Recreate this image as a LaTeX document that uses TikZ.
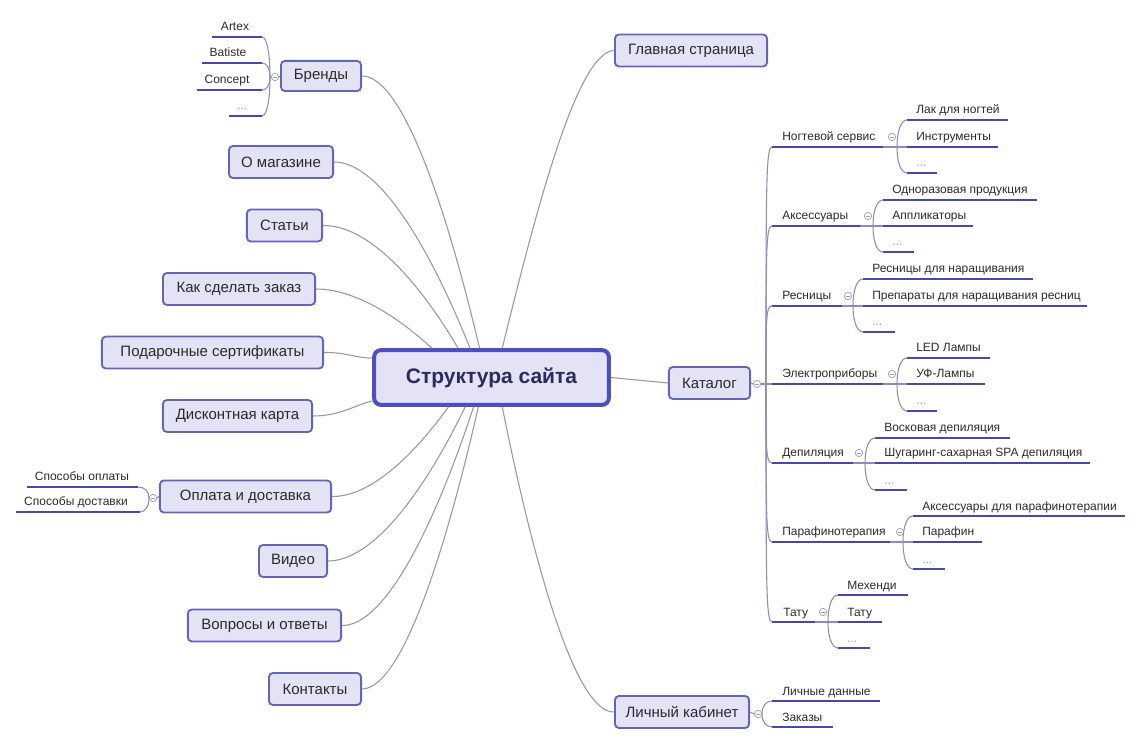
\documentclass[tikz,border=0pt]{standalone}
\usepackage{fontspec}
\setmainfont{Liberation Sans}
\usetikzlibrary{calc}
\definecolor{boxfill}{HTML}{E3E3F5}
\definecolor{boxdraw}{HTML}{6565B5}
\definecolor{ctrdraw}{HTML}{4E4EC0}
\definecolor{ulcol}{HTML}{4848A8}
\definecolor{conncol}{HTML}{9696AE}
\definecolor{brcol}{HTML}{8C8CB8}
\definecolor{txt}{HTML}{2A2A2A}
\definecolor{ctrtxt}{HTML}{2B2B5C}
\definecolor{dotcol}{HTML}{9A9A9A}
\definecolor{circcol}{HTML}{A0A0BC}
\newcommand\uitem[7][itm]{%
  \coordinate (#2s) at (#3,#5);
  \coordinate (#2e) at (#4,#5);
  \draw[uline] (#2s) -- (#2e);
  \node[anchor=base west,#1] (#2) at (#6,{#5-6}) {#7};}
\newcommand\forkto[2]{\draw[branch] (#1) .. controls ($(#1)!0.6!(#1 |- #2)$) and ($(#1 |- #2)!0.4!(#2)$) .. (#2);}
\newcommand\trunkto[2]{\draw[branch] (#1) .. controls ($(#1)!0.85!(#1 |- #2)$) and (#1 |- #2) .. (#2);}
\begin{document}
\begin{tikzpicture}[x=0.75pt,y=-0.75pt,
  box/.style={draw=boxdraw, line width=1.4pt, fill=boxfill, rounded corners=3pt,
    minimum height=24pt, inner sep=0pt, font=\fontsize{11.25}{13}\selectfont, text=txt},
  ctrbox/.style={draw=ctrdraw, line width=3pt, fill=boxfill, rounded corners=5pt,
    minimum width=176pt, minimum height=41pt, inner sep=0pt,
    font=\fontsize{15.75}{18}\selectfont\bfseries, text=ctrtxt},
  conn/.style={draw=conncol, line width=0.8pt},
  branch/.style={draw=brcol, line width=0.8pt},
  uline/.style={draw=ulcol, line width=2pt},
  itm/.style={font=\fontsize{9}{11}\selectfont, text=txt, inner sep=0pt},
  dotitm/.style={itm, text=dotcol},
  mcirc/.style={circle, draw=circcol, fill=white, line width=0.6pt, minimum size=5.5pt,
    inner sep=0pt, path picture={\draw[circcol, line width=0.6pt]
      ([xshift=-1.6pt]path picture bounding box.center) --
      ([xshift=1.6pt]path picture bounding box.center);}}
]
\useasboundingbox (0,0) rectangle (1140,745);

% center
\node[ctrbox] (ctr) at (491.5,377.5) {Структура сайта};

% main boxes
\node[box, minimum width=60.1pt, minimum height=22.6pt] (brand) at (321,76) {Бренды};
\node[box, minimum width=78.1pt] (shop) at (281,162) {О магазине};
\node[box, minimum width=56.4pt] (art) at (284.5,225.5) {Статьи};
\node[box, minimum width=114.1pt] (order) at (239,289) {Как сделать заказ};
\node[box, minimum width=165.9pt] (gift) at (212.5,352.5) {Подарочные сертификаты};
\node[box, minimum width=111.9pt] (disc) at (237.5,416) {Дисконтная карта};
\node[box, minimum width=128.4pt] (pay) at (245.5,496.5) {Оплата и доставка};
\node[box, minimum width=51.1pt] (video) at (293,561) {Видео};
\node[box, minimum width=114.9pt] (faq) at (264.5,625.5) {Вопросы и ответы};
\node[box, minimum width=69.1pt] (cont) at (315,689) {Контакты};
\node[box, minimum width=114.1pt] (home) at (691,50.5) {Главная страница};
\node[box, minimum width=60.9pt] (cat) at (709.5,383) {Каталог};
\node[box, minimum width=100.6pt] (lk) at (682,712) {Личный кабинет};

% landing points on the center box
\coordinate (t1) at ($(ctr.north west)!0.25!(ctr.north east)$);
\coordinate (t2) at ($(ctr.north west)!0.36!(ctr.north east)$);
\coordinate (t3) at ($(ctr.north west)!0.41!(ctr.north east)$);
\coordinate (t4) at ($(ctr.north west)!0.45!(ctr.north east)$);
\coordinate (t5) at ($(ctr.north west)!0.545!(ctr.north east)$);
\coordinate (b1) at ($(ctr.south west)!0.32!(ctr.south east)$);
\coordinate (b2) at ($(ctr.south west)!0.39!(ctr.south east)$);
\coordinate (b3) at ($(ctr.south west)!0.425!(ctr.south east)$);
\coordinate (b4) at ($(ctr.south west)!0.445!(ctr.south east)$);
\coordinate (b5) at ($(ctr.south west)!0.545!(ctr.south east)$);
\coordinate (w1) at ($(ctr.north west)!0.17!(ctr.south west)$);
\coordinate (w2) at ($(ctr.north west)!0.9!(ctr.south west)$);

% connectors from center
\draw[conn] (brand.east) .. controls (401,76) and (444,198) .. (t4);
\draw[conn] (shop.east) .. controls (379,162) and (429,246) .. (t3);
\draw[conn] (art.east) .. controls (368,225) and (418,280) .. (t2);
\draw[conn] (order.east) .. controls (354,289) and (397,316) .. (t1);
\draw[conn] (gift.east) .. controls (345,352) and (355,358) .. (w1);
\draw[conn] (disc.east) .. controls (340,416) and (355,405) .. (w2);
\draw[conn] (pay.east) .. controls (370,497) and (413,456) .. (b1);
\draw[conn] (video.east) .. controls (373,561) and (424,492) .. (b2);
\draw[conn] (faq.east) .. controls (385,626) and (434,527) .. (b3);
\draw[conn] (cont.east) .. controls (400,689) and (443,562) .. (b4);
\draw[conn] (home.west) .. controls (577,52) and (536,211) .. (t5);
\draw[conn] (lk.west) .. controls (577,713) and (536,575) .. (b5);
\draw[conn] (ctr.east) -- (cat.west);

% brands subtree
\node[mcirc] (brc) at (275,77) {};
\coordinate (brj) at (270,77);
\uitem[itm,anchor=base]{artex}{212}{262}{37}{235}{Artex}
\uitem[itm,anchor=base]{batiste}{202}{262}{63}{228}{Batiste}
\uitem[itm,anchor=base]{concept}{197}{262}{90}{227}{Concept}
\uitem[dotitm,anchor=base]{brd}{229}{262}{116}{242}{...}
\draw[branch] (brand.west) -- (brc.east);
\forkto{brj}{artexe}
\forkto{brj}{batistee}
\forkto{brj}{concepte}
\forkto{brj}{brde}

% payment subtree
\node[mcirc] (payc) at (153,498) {};
\coordinate (payj) at (149,498);
\uitem[itm,anchor=base]{sopl}{27}{138}{487}{82}{Способы оплаты}
\uitem[itm,anchor=base]{sdost}{16}{140}{512}{76}{Способы доставки}
\draw[branch] (pay.west) -- (payc.east);
\forkto{payj}{sople}
\forkto{payj}{sdoste}

% personal cabinet subtree
\node[mcirc] (lkc) at (758,714) {};
\coordinate (lkj) at (762,714);
\uitem{lich}{772}{880}{701}{782}{Личные данные}
\uitem{zak}{772}{833}{727}{782}{Заказы}
\draw[branch] (lk.east) -- (lkc.west);
\forkto{lkj}{lichs}
\forkto{lkj}{zaks}

% catalog subtree
\node[mcirc] (catc) at (757,384) {};
\coordinate (trj) at (766,384);
\draw[branch] (cat.east) -- (catc.west);
\draw[branch] (catc.east) -- (trj);

% Ногтевой сервис
\uitem{ns}{772}{883}{147}{782}{Ногтевой сервис}
\node[mcirc] (nsc) at (892,137) {};
\coordinate (nsj) at (897,147);
\uitem{lak}{907}{1008}{120}{916}{Лак для ногтей}
\uitem{instr}{907}{998}{147}{916}{Инструменты}
\uitem[dotitm]{nsd}{907}{937}{173}{916}{...}
\draw[branch] (nse) -- (instrs);
\forkto{nsj}{laks}
\forkto{nsj}{nsds}

% Аксессуары
\uitem{acc}{772}{860}{226}{782}{Аксессуары}
\node[mcirc] (accc) at (868,216) {};
\coordinate (accj) at (873,226);
\uitem{odn}{883}{1037}{200}{892}{Одноразовая продукция}
\uitem{appl}{883}{973}{226}{892}{Аппликаторы}
\uitem[dotitm]{accd}{883}{914}{252}{892}{...}
\draw[branch] (acce) -- (appls);
\forkto{accj}{odns}
\forkto{accj}{accds}

% Ресницы
\uitem{res}{772}{842}{306}{782}{Ресницы}
\node[mcirc] (resc) at (848,296) {};
\coordinate (resj) at (853,306);
\uitem{resn}{863}{1033}{279}{872}{Ресницы для наращивания}
\uitem{prep}{863}{1087}{306}{872}{Препараты для наращивания ресниц}
\uitem[dotitm]{resd}{863}{895}{332}{872}{...}
\draw[branch] (rese) -- (preps);
\forkto{resj}{resns}
\forkto{resj}{resds}

% Электроприборы
\uitem{el}{772}{883}{384}{782}{Электроприборы}
\node[mcirc] (elc) at (892,374) {};
\coordinate (elj) at (897,384);
\uitem{led}{907}{990}{358}{916}{LED Лампы}
\uitem{uf}{907}{985}{384}{916}{УФ-Лампы}
\uitem[dotitm]{eld}{907}{937}{411}{916}{...}
\draw[branch] (ele) -- (ufs);
\forkto{elj}{leds}
\forkto{elj}{elds}

% Депиляция
\uitem{dep}{772}{853}{463}{782}{Депиляция}
\node[mcirc] (depc) at (859,453) {};
\coordinate (depj) at (865,463);
\uitem{vosk}{875}{1010}{438}{884}{Восковая депиляция}
\uitem{shug}{875}{1090}{463}{884}{Шугаринг-сахарная SPA депиляция}
\uitem[dotitm]{depd}{875}{907}{490}{884}{...}
\draw[branch] (depe) -- (shugs);
\forkto{depj}{vosks}
\forkto{depj}{depds}

% Парафинотерапия
\uitem{par}{772}{890}{542}{782}{Парафинотерапия}
\node[mcirc] (parc) at (900,532) {};
\coordinate (parj) at (903,542);
\uitem{parac}{913}{1125}{516}{922}{Аксессуары для парафинотерапии}
\uitem{paraf}{913}{982}{542}{922}{Парафин}
\uitem[dotitm]{pard}{913}{945}{569}{922}{...}
\draw[branch] (pare) -- (parafs);
\forkto{parj}{paracs}
\forkto{parj}{pards}

% Тату
\uitem{tat}{772}{815}{622}{783}{Тату}
\node[mcirc] (tatc) at (823,612) {};
\coordinate (tatj) at (828,622);
\uitem{meh}{838}{908}{595}{847}{Мехенди}
\uitem{tatu}{838}{882}{622}{847}{Тату}
\uitem[dotitm]{tatd}{838}{870}{648}{847}{...}
\draw[branch] (tate) -- (tatus);
\forkto{tatj}{mehs}
\forkto{tatj}{tatds}

% trunk
\trunkto{trj}{nss}
\trunkto{trj}{accs}
\trunkto{trj}{ress}
\draw[branch] (trj) -- (els);
\trunkto{trj}{deps}
\trunkto{trj}{pars}
\trunkto{trj}{tats}
\end{tikzpicture}
\end{document}
